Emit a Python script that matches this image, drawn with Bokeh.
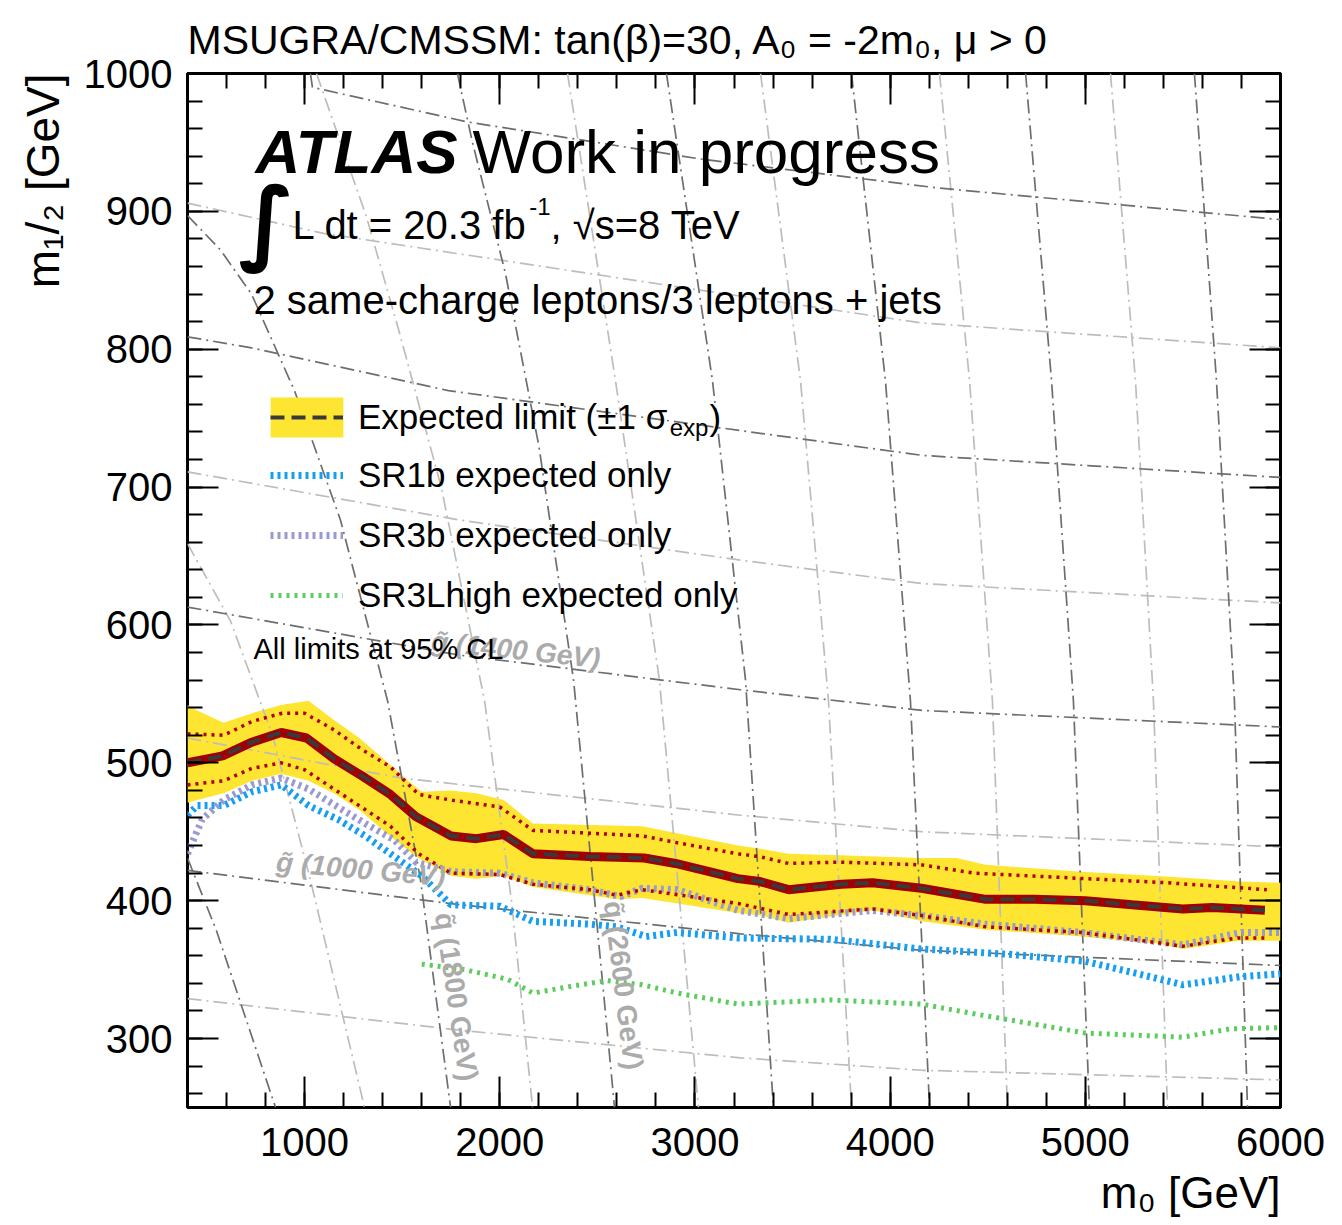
from bokeh.plotting import figure
from bokeh.models import (Range1d, FixedTicker, LinearAxis, Label, Legend, LegendItem, Title,
                          CustomJSTickFormatter)
from bokeh.embed import file_html
from bokeh.resources import INLINE
import math

# ---------------- data (m0, m1/2 in GeV) ----------------
exp_m0 = [400, 580, 730, 880, 1010, 1150, 1300, 1440, 1570, 1750, 1880, 2020, 2170, 2460, 2740, 2900,
          3220, 3330, 3480, 3750, 3910, 4160, 4490, 4740, 5000, 5240, 5500, 5650, 5920]
exp_m12 = [500, 505, 515, 522, 518, 503, 490, 477, 461, 447, 445, 448, 434, 432, 431, 427,
           416, 414, 408, 412, 413, 409, 401, 401, 400, 397, 394, 395, 393]

band_up_m0 = [400, 450, 585, 730, 880, 1020, 1150, 1280, 1420, 1530, 1600, 1750, 1880, 2020, 2170, 2730,
              3220, 3320, 3480, 3740, 4160, 4340, 4490, 4980, 5370, 5800, 6000]
band_up_m12 = [542, 538, 529, 536, 542, 545, 531, 518, 501, 487, 479, 480, 478, 473, 456, 454,
               440, 438, 434, 433, 431, 431, 426, 421, 418, 414, 413]
band_dn_m0 = [400, 450, 585, 730, 880, 1020, 1150, 1280, 1420, 1570, 1750, 1880, 2020, 2170, 2460, 2600,
              2730, 3220, 3350, 3480, 3910, 4170, 4490, 4980, 5370, 5500, 5780, 6000]
band_dn_m12 = [471, 473, 478, 487, 492, 487, 478, 466, 449, 432, 418, 416, 418, 410, 404, 401,
               402, 391, 389, 384, 393, 385, 379, 374, 369, 365, 371, 371]

up1s_m0 = [400, 585, 730, 885, 1000, 1150, 1290, 1440, 1585, 1750, 2000, 2170, 2460, 2730, 2910,
           3220, 3330, 3480, 3740, 4160, 4430, 5000, 5420, 5930]
up1s_m12 = [521, 520, 530, 536, 536, 524, 510, 497, 477, 473, 468, 451, 449, 447, 442,
            434, 432, 427, 428, 426, 420, 416, 413, 408]
dn1s_m0 = [400, 585, 730, 880, 1000, 1150, 1290, 1440, 1585, 1750, 2000, 2170, 2460, 2600, 2730,
           3220, 3480, 3910, 4170, 4490, 4980, 5500, 5780, 5930]
dn1s_m12 = [484, 487, 496, 500, 495, 481, 468, 454, 434, 420, 419, 412, 408, 404, 408,
            398, 390, 394, 389, 381, 377, 367, 373, 373]

sr1b_m0 = [400, 450, 585, 730, 880, 1020, 1170, 1310, 1460, 1600, 1750, 2000, 2170, 2460, 2600, 2750,
           2910, 3220, 3690, 4160, 4620, 5000, 5240, 5500, 5800, 6000]
sr1b_m12 = [462, 469, 469, 479, 484, 469, 459, 447, 432, 418, 397, 396, 385, 383, 381, 374,
            377, 373, 372, 365, 361, 356, 348, 339, 345, 347]
sr3b_m0 = [400, 475, 585, 730, 880, 1020, 1170, 1310, 1460, 1570, 1750, 2000, 2170, 2460, 2620, 2730,
           2910, 3220, 3480, 3910, 4170, 4490, 4980, 5500, 5800, 6000]
sr3b_m12 = [434, 459, 473, 484, 489, 481, 468, 456, 444, 428, 421, 420, 413, 408, 403, 409,
            408, 393, 387, 393, 389, 383, 377, 368, 377, 377]
sr3l_m0 = [1600, 1820, 2040, 2170, 2370, 2550, 2730, 2910, 3220, 3690, 4160, 4430, 5000, 5500, 5740, 6000]
sr3l_m12 = [354, 350, 343, 333, 338, 342, 339, 333, 325, 328, 325, 318, 304, 301, 307, 308]

# squark iso-mass contours (m0, m1/2)
sq1000_m0 = [400, 549, 851];                   sq1000_m12 = [431, 378, 250]
sq1400_m0 = [400, 620, 836, 1030, 1307];       sq1400_m12 = [659, 603, 520, 415, 250]
sq1800_m0 = [400, 569, 728, 948, 1184, 1425, 1594, 1748]
sq1800_m12 = [897, 872, 840, 770, 676, 545, 415, 250]
sq2200_m0 = [1061, 1317, 1480, 1700, 1922, 2060, 2168]
sq2200_m12 = [1000, 896, 815, 700, 545, 400, 250]
sq2600_m0 = [1783, 1860, 2029, 2200, 2378, 2588]
sq2600_m12 = [1000, 950, 855, 730, 560, 250]
sq3000_m0 = [2347, 2593, 2818, 3018];          sq3000_m12 = [1000, 777, 560, 250]
sq3400_m0 = [2854, 3090, 3259, 3402];          sq3400_m12 = [1000, 777, 560, 250]
sq3800_m0 = [3336, 3541, 3684, 3802];          sq3800_m12 = [1000, 777, 545, 250]
sq4200_m0 = [3802, 3976, 4104, 4202];          sq4200_m12 = [1000, 777, 545, 250]
sq4600_m0 = [4253, 4407, 4524, 4601];          sq4600_m12 = [1000, 777, 545, 250]
sq5000_m0 = [4694, 4827, 4939, 5021];          sq5000_m12 = [1000, 777, 545, 250]
sq5400_m0 = [5129, 5257, 5349, 5421];          sq5400_m12 = [1000, 777, 545, 250]
sq5800_m0 = [5559, 5672, 5764, 5831];          sq5800_m12 = [1000, 777, 545, 250]

# gluino iso-mass contours (m0, m1/2)
gl2200_m0 = [1030, 1040, 1830, 3028, 4243, 6000]; gl2200_m12 = [1000, 990, 965, 938, 917, 894]
gl2000_m0 = [400, 1097, 3018, 4165, 6000];        gl2000_m12 = [906, 884, 843, 819, 801]
gl1800_m0 = [400, 728, 1737, 3233, 4165, 6000];   gl1800_m12 = [809, 801, 770, 741, 723, 707]
gl1600_m0 = [400, 1799, 3233, 4165, 6000];        gl1600_m12 = [711, 676, 647, 630, 616]
gl1400_m0 = [400, 1799, 3233, 4165, 6000];        gl1400_m12 = [613, 578, 553, 538, 526]
gl1200_m0 = [400, 1491, 3233, 4165, 6000];        gl1200_m12 = [518, 489, 462, 450, 439]
gl1000_m0 = [400, 1799, 3233, 4165, 6000];        gl1000_m12 = [422, 397, 376, 364, 353]
gl800_m0 = [400, 1799, 3233, 4165, 6000];         gl800_m12 = [329, 306, 286, 277, 270]

x_major = [1000, 2000, 3000, 4000, 5000, 6000]
x_minor = list(range(400, 6001, 200))
y_major = [300, 400, 500, 600, 700, 800, 900, 1000]
y_minor = list(range(260, 1001, 20))

DARK, LIGHT = "#6e6e6e", "#bdbdbd"
dark_lines = [(sq1000_m0, sq1000_m12), (sq1800_m0, sq1800_m12), (sq2600_m0, sq2600_m12),
              (sq3400_m0, sq3400_m12), (sq4200_m0, sq4200_m12), (sq5000_m0, sq5000_m12),
              (sq5800_m0, sq5800_m12), (gl2200_m0, gl2200_m12), (gl1800_m0, gl1800_m12),
              (gl1400_m0, gl1400_m12), (gl1000_m0, gl1000_m12)]
light_lines = [(sq1400_m0, sq1400_m12), (sq2200_m0, sq2200_m12), (sq3000_m0, sq3000_m12),
               (sq3800_m0, sq3800_m12), (sq4600_m0, sq4600_m12), (sq5400_m0, sq5400_m12),
               (gl2000_m0, gl2000_m12), (gl1600_m0, gl1600_m12), (gl1200_m0, gl1200_m12),
               (gl800_m0, gl800_m12)]

# ---------------- figure ----------------
FONT = "Liberation Sans"
W, H = 1342, 1225
L0, R0, T0, B0 = 187, 62, 73, 118
X0, X1, Y0, Y1 = 400, 6000, 250, 1000
FW, FH = W - L0 - R0, H - T0 - B0

def X(px):
    return X0 + (px - L0) * (X1 - X0) / FW

def Y(py):
    return Y1 - (py - T0) * (Y1 - Y0) / FH

p = figure(width=W, height=H, x_range=Range1d(X0, X1), y_range=Range1d(Y0, Y1),
           output_backend="svg", toolbar_location=None,
           min_border_left=L0, min_border_right=R0, min_border_top=T0, min_border_bottom=B0)
p.xgrid.visible = False
p.ygrid.visible = False
p.outline_line_color = "black"
p.outline_line_width = 3
p.background_fill_color = "white"
p.border_fill_color = "white"

def style_axis(ax, labels=True, standoff=14):
    ax.axis_line_color = None
    ax.major_tick_in = 31
    ax.major_tick_out = 0
    ax.minor_tick_in = 15
    ax.minor_tick_out = 0
    ax.major_tick_line_width = 2
    ax.minor_tick_line_width = 2
    ax.major_tick_line_color = "black"
    ax.minor_tick_line_color = "black"
    if labels:
        ax.major_label_text_font = FONT
        ax.major_label_text_font_size = "40px"
        ax.major_label_text_color = "black"
        ax.major_label_standoff = standoff
    else:
        ax.formatter = CustomJSTickFormatter(code="return ''")
        ax.major_label_text_font_size = "1px"
        ax.major_label_standoff = 0

xt = FixedTicker(ticks=x_major, minor_ticks=x_minor)
yt = FixedTicker(ticks=y_major, minor_ticks=y_minor)
p.xaxis.ticker = xt
p.yaxis.ticker = yt
style_axis(p.xaxis[0], standoff=20)
style_axis(p.yaxis[0], standoff=15)
top_ax = LinearAxis(ticker=xt)
right_ax = LinearAxis(ticker=yt)
style_axis(top_ax, labels=False)
style_axis(right_ax, labels=False)
p.add_layout(top_ax, "above")
p.add_layout(right_ax, "right")

# titles (side panels)
p.title.text = "MSUGRA/CMSSM: tan(\u03b2)=30, A\u2080 = -2m\u2080, \u03bc > 0"
p.title.text_font = FONT
p.title.text_font_size = "41px"
p.title.text_font_style = "normal"
p.title.text_color = "black"
p.title.align = "left"
p.title.standoff = 22
p.add_layout(Title(text="m\u2080 [GeV]", align="right", text_font=FONT, text_font_size="44px",
                   text_font_style="normal", text_color="black", standoff=14), "below")
p.add_layout(Title(text="m\u2081/\u2082 [GeV]", align="right", text_font=FONT, text_font_size="46px",
                   text_font_style="normal", text_color="black", standoff=24), "left")

# band
band_r = p.patch(band_up_m0 + band_dn_m0[::-1], band_up_m12 + band_dn_m12[::-1],
                 fill_color="#fee531", line_color=None)

# iso-mass contours
for xs, ys in light_lines:
    p.line(xs, ys, line_color=LIGHT, line_width=1.7, line_dash="14 5 2 5")
for xs, ys in dark_lines:
    p.line(xs, ys, line_color=DARK, line_width=1.7, line_dash="14 5 2 5")

# limits
sr3l_r = p.line(sr3l_m0, sr3l_m12, line_color="#5ccd5c", line_width=5, line_dash="3 5")
sr1b_r = p.line(sr1b_m0, sr1b_m12, line_color="#159ff2", line_width=7, line_dash="3 4")
sr3b_r = p.line(sr3b_m0, sr3b_m12, line_color="#9a9ad0", line_width=7, line_dash="3 4")
p.line(up1s_m0, up1s_m12, line_color="#b00000", line_width=3.5, line_dash="3 5")
p.line(dn1s_m0, dn1s_m12, line_color="#b00000", line_width=3.5, line_dash="3 5")
p.line(exp_m0, exp_m12, line_color="#a00000", line_width=9)
dash_r = p.line(exp_m0, exp_m12, line_color="#3a3a3a", line_width=4, line_dash="14 7")

# helpers for text
HW = {' ': 278, '!': 278, '(': 333, ')': 333, '+': 584, ',': 278, '-': 333, '.': 278, '/': 278,
      ':': 278, '=': 584, '>': 584, '[': 278, ']': 278, '\u00b1': 584, '\u03b2': 575, '\u03bc': 576,
      '\u03c3': 610, '\u221a': 549, 'A': 667, 'C': 722, 'E': 667, 'G': 778, 'L': 556, 'M': 833,
      'R': 722, 'S': 667, 'T': 611, 'U': 722, 'V': 667, 'W': 944, 'a': 556, 'b': 556, 'c': 500,
      'd': 556, 'e': 556, 'f': 278, 'g': 556, 'h': 556, 'i': 222, 'j': 222, 'k': 500, 'l': 222,
      'm': 833, 'n': 556, 'o': 556, 'p': 556, 'r': 333, 's': 500, 't': 278, 'u': 556, 'x': 500,
      'y': 500}

def tw(text, size):
    return sum(HW.get(c, 556) for c in text) * size / 1000.0

KB = 0.38  # baseline correction (fraction of font size)

def txt(text, px, py, size, color="black", style="normal", angle=0.0, font=FONT,
        baseline="alphabetic"):
    if baseline == "alphabetic":
        px = px - KB * size * math.sin(angle)
        py = py - KB * size * math.cos(angle)
    p.add_layout(Label(x=X(px), y=Y(py), text=text, text_font=font,
                       text_font_size=f"{size}px", text_color=color, text_font_style=style,
                       text_align="left", text_baseline=baseline, angle=angle))

# iso-mass labels
GREY = "#ababab"
txt("g\u0303 (1000 GeV)", 275, 872, 28, GREY, "bold italic", angle=math.radians(-5))
txt("g\u0303 (1400 GeV)", 430, 651, 28, GREY, "bold italic", angle=math.radians(-6))
txt("q\u0303 (1800 GeV)", 433, 914, 28, GREY, "bold", angle=math.radians(-81.6))
txt("q\u0303 (2600 GeV)", 602, 902, 28, GREY, "bold", angle=math.radians(-83))

# legends
LEG = dict(orientation="vertical", padding=0, margin=0, border_line_color=None,
           background_fill_alpha=0.0, label_text_font=FONT, label_text_font_size="35px",
           label_text_color="black", label_height=40)
leg_a = Legend(items=[LegendItem(label="Expected limit (\u00b11 \u03c3", renderers=[band_r])],
               location=(261 - L0, 1107 - 442), glyph_width=91, glyph_height=50,
               label_standoff=6, spacing=0, **LEG)
leg_c = Legend(items=[LegendItem(label=" ", renderers=[dash_r])],
               location=(270 - L0, 1107 - 437), glyph_width=73, glyph_height=40,
               label_standoff=0, spacing=0, **LEG)
leg_b = Legend(items=[
    LegendItem(label="SR1b expected only", renderers=[sr1b_r]),
    LegendItem(label="SR3b expected only", renderers=[sr3b_r]),
    LegendItem(label="SR3Lhigh expected only", renderers=[sr3l_r]),
], location=(270 - L0, 1107 - 615), glyph_width=73, glyph_height=40,
    label_standoff=15, spacing=20, **LEG)
p.add_layout(leg_a)
p.add_layout(leg_c)
p.add_layout(leg_b)
e_end = 358 + tw("Expected limit (\u00b11 \u03c3", 35)
txt("exp", e_end + 1, 436, 24)
txt(")", e_end + 2 + tw("exp", 24), 417, 35, baseline="middle")

# header texts inside the frame
txt("ATLAS", 255, 175, 62, style="bold italic")
txt("Work in progress", 472, 175, 62)
txt("\u222b", 238, 256, 92, font="DejaVu Sans", style="bold")
t3 = "L dt = 20.3 fb"
txt(t3, 292, 240, 40)
x = 292 + tw(t3, 40) + 2
txt("-1", x, 215, 24)
x += tw("-1", 24)
txt(", \u221as=8 TeV", x, 240, 40)
txt("2 same-charge leptons/3 leptons + jets", 253, 315, 40)
txt("All limits at 95% CL", 253, 660, 29)

open("out.html", "w").write(file_html(p, INLINE))
